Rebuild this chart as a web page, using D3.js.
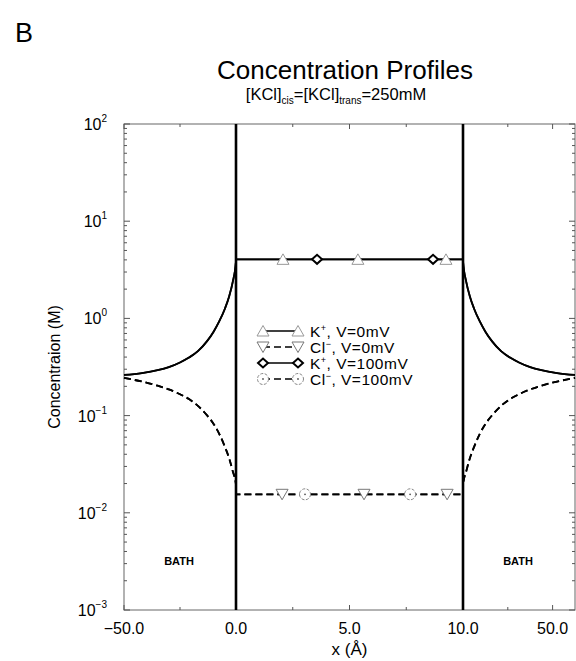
<!DOCTYPE html>
<html>
<head>
<meta charset="utf-8">
<script src="https://cdn.jsdelivr.net/npm/d3@7"></script>
<style>
  html, body { margin: 0; padding: 0; background: #fff; }
  svg { display: block; font-family: Arial, "Liberation Sans", Helvetica, sans-serif; }
</style>
</head>
<body>
<svg id="chart" width="576" height="661"></svg>
<script>
// Distance from the nearest channel mouth (Å) in the baths
const bathDist = [0, 1.5, 3, 5, 7.5, 10, 13, 17, 21, 25, 30, 35, 42, 50];
// K+ and Cl- concentrations (M) in the baths at those distances
const kBath  = [3.9, 2.35, 1.7, 1.25, 0.93, 0.73, 0.58, 0.46, 0.395, 0.352, 0.315, 0.293, 0.274, 0.262];
const clBath = [0.0195, 0.027, 0.036, 0.048, 0.065, 0.082, 0.101, 0.126, 0.148, 0.166, 0.186, 0.203, 0.224, 0.244];
// Concentrations inside the channel (0..10 Å)
const kChannel = 4.05;
const clChannel = 0.0155;

// Symbol positions along the channel lines (Å)
const kV0Marks   = [2.07, 5.37, 9.25];
const kV100Marks = [3.57, 8.68];
const clV0Marks  = [2.03, 5.64, 9.3];
const clV100Marks = [3.04, 7.67];

// Axis ticks
const xMajorTicks = [-50, 0, 5, 10, 50];
const xMinorTicks = [-25, 2.5, 7.5, 30];
const xTickLabels = ["\u221250.0", "0.0", "5.0", "10.0", "50.0"];
const yDecades = [-3, -2, -1, 0, 1, 2];

const legendItems = [
  { ion: "K", sign: "+", v: "V=0mV",   dash: null,  symbol: "triUp" },
  { ion: "Cl", sign: "\u2212", v: "V=0mV",   dash: "7,4", symbol: "triDown" },
  { ion: "K", sign: "+", v: "V=100mV", dash: null,  symbol: "diamond" },
  { ion: "Cl", sign: "\u2212", v: "V=100mV", dash: "7,4", symbol: "circle" }
];

const svg = d3.select("#chart");
const plotL = 124, plotR = 575, plotT = 124, plotB = 610;

// Piecewise scale: baths compressed, channel expanded
const x = d3.scaleLinear().domain([-50, 0, 10, 60]).range([plotL, 236, 463, plotR]);
const y = d3.scaleLog().domain([1e-3, 1e2]).range([plotB, plotT]);

// Build full profiles: left bath -> channel -> right bath
function profile(bath, chan) {
  const pts = [];
  for (let i = bath.length - 1; i >= 0; i--) pts.push([-bathDist[i], bath[i]]);
  pts.push([0, chan], [10, chan]);
  for (let i = 0; i < bath.length; i++) pts.push([10 + bathDist[i], bath[i]]);
  return pts;
}
const kProfile = profile(kBath, kChannel);
const clProfile = profile(clBath, clChannel);

const line = d3.line().x(d => x(d[0])).y(d => y(d[1])).curve(d3.curveMonotoneX);

// Frame
svg.append("rect").attr("x", plotL).attr("y", plotT).attr("width", plotR - plotL).attr("height", plotB - plotT)
  .attr("fill", "none").attr("stroke", "#666").attr("stroke-width", 1);

// Y ticks (log), on left and right edges, pointing inward
const yt = svg.append("g").attr("stroke", "#555").attr("stroke-width", 1);
yDecades.forEach(e => {
  const base = Math.pow(10, e);
  yt.append("line").attr("x1", plotL).attr("x2", plotL + 6).attr("y1", y(base)).attr("y2", y(base));
  yt.append("line").attr("x1", plotR).attr("x2", plotR - 6).attr("y1", y(base)).attr("y2", y(base));
  if (e < 2) {
    for (let m = 2; m <= 9; m++) {
      const v = m * base;
      yt.append("line").attr("x1", plotL).attr("x2", plotL + 3).attr("y1", y(v)).attr("y2", y(v));
      yt.append("line").attr("x1", plotR).attr("x2", plotR - 3).attr("y1", y(v)).attr("y2", y(v));
    }
  }
});

// X ticks, bottom and top
xMajorTicks.concat(xMinorTicks).forEach((t, i) => {
  const len = i < xMajorTicks.length ? 5 : 3;
  yt.append("line").attr("x1", x(t)).attr("x2", x(t)).attr("y1", plotB).attr("y2", plotB - len);
  yt.append("line").attr("x1", x(t)).attr("x2", x(t)).attr("y1", plotT).attr("y2", plotT + len);
});

// Y tick labels: 10^n
const ylab = svg.append("g").attr("font-size", 16).attr("fill", "#000");
yDecades.forEach(e => {
  const t = ylab.append("text").attr("x", 107).attr("y", y(Math.pow(10, e)) + 6).attr("text-anchor", "end");
  t.append("tspan").text("10");
  t.append("tspan").attr("dy", -8).attr("font-size", 10).text(e < 0 ? "\u2212" + (-e) : String(e));
});

// X tick labels
xMajorTicks.forEach((t, i) => {
  svg.append("text").attr("x", x(t)).attr("y", 634).attr("text-anchor", "middle")
    .attr("font-size", 16).text(xTickLabels[i]);
});

// Axis titles
svg.append("text").attr("x", x(5)).attr("y", 655).attr("text-anchor", "middle")
  .attr("font-size", 17).text("x (\u00C5)");
svg.append("text").attr("transform", `translate(60,${(plotT + plotB) / 2}) rotate(-90)`)
  .attr("text-anchor", "middle").attr("font-size", 16).text("Concentraion (M)");

// Panel letter and titles
svg.append("text").attr("x", 15).attr("y", 42).attr("font-size", 27).text("B");
svg.append("text").attr("x", 345).attr("y", 79).attr("text-anchor", "middle")
  .attr("font-size", 26).text("Concentration Profiles");
const sub = svg.append("text").attr("x", 336).attr("y", 100).attr("text-anchor", "middle").attr("font-size", 16.5);
sub.append("tspan").text("[KCl]");
sub.append("tspan").attr("dy", 4).attr("font-size", 10).text("cis");
sub.append("tspan").attr("dy", -4).text("=[KCl]");
sub.append("tspan").attr("dy", 4).attr("font-size", 10).text("trans");
sub.append("tspan").attr("dy", -4).text("=250mM");

// BATH labels
[-25, 35].forEach(v => {
  svg.append("text").attr("x", x(v) - 1).attr("y", 565).attr("text-anchor", "middle")
    .attr("font-size", 11).attr("font-weight", "bold").text("BATH");
});

// Channel walls
[0, 10].forEach(v => {
  svg.append("line").attr("x1", x(v)).attr("x2", x(v)).attr("y1", plotT).attr("y2", plotB)
    .attr("stroke", "#000").attr("stroke-width", 2.6);
});

// Profiles (V=0 and V=100mV coincide)
const curves = svg.append("g").attr("fill", "none").attr("stroke", "#000").attr("stroke-width", 1.8);
curves.append("path").attr("d", line(kProfile));
curves.append("path").attr("d", line(kProfile));
curves.append("path").attr("d", line(clProfile)).attr("stroke-dasharray", "7,4");
curves.append("path").attr("d", line(clProfile)).attr("stroke-dasharray", "7,4");

// Symbols
function drawSymbol(g, kind, cx, cy) {
  if (kind === "triUp") {
    g.append("path").attr("d", `M${cx - 6},${cy + 5}L${cx},${cy - 5.5}L${cx + 6},${cy + 5}Z`)
      .attr("fill", "#fff").attr("stroke", "#999").attr("stroke-width", 1);
  } else if (kind === "triDown") {
    g.append("path").attr("d", `M${cx - 6},${cy - 5}L${cx},${cy + 5.5}L${cx + 6},${cy - 5}Z`)
      .attr("fill", "#fff").attr("stroke", "#777").attr("stroke-width", 1);
  } else if (kind === "diamond") {
    g.append("path").attr("d", `M${cx - 5},${cy}L${cx},${cy - 4.5}L${cx + 5},${cy}L${cx},${cy + 4.5}Z`)
      .attr("fill", "#fff").attr("stroke", "#000").attr("stroke-width", 2);
  } else if (kind === "circle") {
    g.append("circle").attr("cx", cx).attr("cy", cy).attr("r", 5.5)
      .attr("fill", "#fff").attr("stroke", "#888").attr("stroke-width", 1).attr("stroke-dasharray", "3,1.5");
    g.append("circle").attr("cx", cx).attr("cy", cy).attr("r", 0.9).attr("fill", "#555");
  }
}
const marks = svg.append("g");
kV0Marks.forEach(v => drawSymbol(marks, "triUp", x(v), y(kChannel)));
kV100Marks.forEach(v => drawSymbol(marks, "diamond", x(v), y(kChannel)));
clV0Marks.forEach(v => drawSymbol(marks, "triDown", x(v), y(clChannel)));
clV100Marks.forEach(v => drawSymbol(marks, "circle", x(v), y(clChannel)));

// Legend
const lg = svg.append("g");
legendItems.forEach((d, i) => {
  const ly = 331 + i * 16;
  lg.append("line").attr("x1", 263).attr("x2", 298).attr("y1", ly).attr("y2", ly)
    .attr("stroke", "#000").attr("stroke-width", 1.6).attr("stroke-dasharray", d.dash);
  drawSymbol(lg, d.symbol, 263, ly);
  drawSymbol(lg, d.symbol, 298, ly);
  const t = lg.append("text").attr("x", 310).attr("y", ly + 5.5).attr("font-size", 15.5)
    .attr("letter-spacing", 0.5);
  t.append("tspan").text(d.ion);
  t.append("tspan").attr("dy", -6).attr("font-size", 9).text(d.sign);
  t.append("tspan").attr("dy", 6).text(", " + d.v);
});
</script>
</body>
</html>
